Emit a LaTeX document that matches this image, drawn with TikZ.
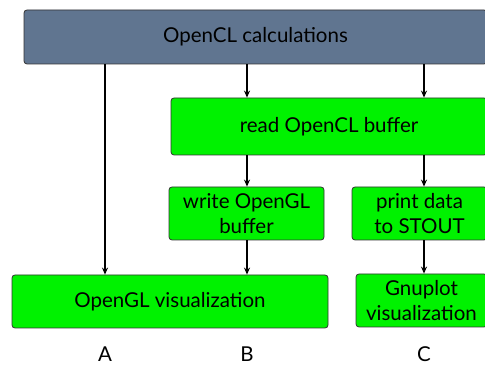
\documentclass[tikz,border=0pt]{standalone}
\usepackage{fontspec}
\setmainfont{Lato}
\usetikzlibrary{arrows.meta}
\definecolor{slate}{RGB}{96,117,144}
\definecolor{brightgreen}{RGB}{0,242,0}
\begin{document}
\begin{tikzpicture}[x=1pt,y=-1pt,
  box/.style={draw=black!80, line width=0.8pt, rounded corners=3pt, inner sep=0pt,
    font=\fontsize{20.5}{25}\selectfont, align=center},
  gbox/.style={box, fill=brightgreen},
  lbl/.style={font=\fontsize{20.5}{25}\selectfont, inner sep=0pt},
  arr/.style={-{Stealth[length=7pt,width=6pt]}, line width=1.3pt}]
\useasboundingbox (0,0) rectangle (485,366);
\clip (0,0) rectangle (485,366);
\node[box, fill=slate, minimum width=463pt, minimum height=54pt] (top) at (255.5,37) {OpenCL calculations};
\node[gbox, minimum width=316pt, minimum height=57pt] (read) at (329,126.5) {read OpenCL buffer};
\node[gbox, minimum width=155pt, minimum height=53pt] (write) at (246.5,213.5) {write OpenGL\\buffer};
\node[gbox, minimum width=135pt, minimum height=53pt] (print) at (419.5,213.5) {print data\\to STOUT};
\node[gbox, minimum width=316pt, minimum height=53pt] (vis) at (170,301.5) {OpenGL visualization};
\node[gbox, minimum width=131pt, minimum height=53pt] (gnu) at (421.5,300.5) {Gnuplot\\visualization};
\node[lbl] (A) at (105,354) {A};
\node[lbl] (B) at (247,354) {B};
\node[lbl] (C) at (424,354) {C};
\draw[arr] (top.south -| A) -- (vis.north -| A);
\draw[arr] (top.south -| B) -- (read.north -| B);
\draw[arr] (top.south -| C) -- (read.north -| C);
\draw[arr] (read.south -| B) -- (write.north -| B);
\draw[arr] (read.south -| C) -- (print.north -| C);
\draw[arr] (write.south -| B) -- (vis.north -| B);
\draw[arr] (print.south -| C) -- (gnu.north -| C);
\end{tikzpicture}
\end{document}
